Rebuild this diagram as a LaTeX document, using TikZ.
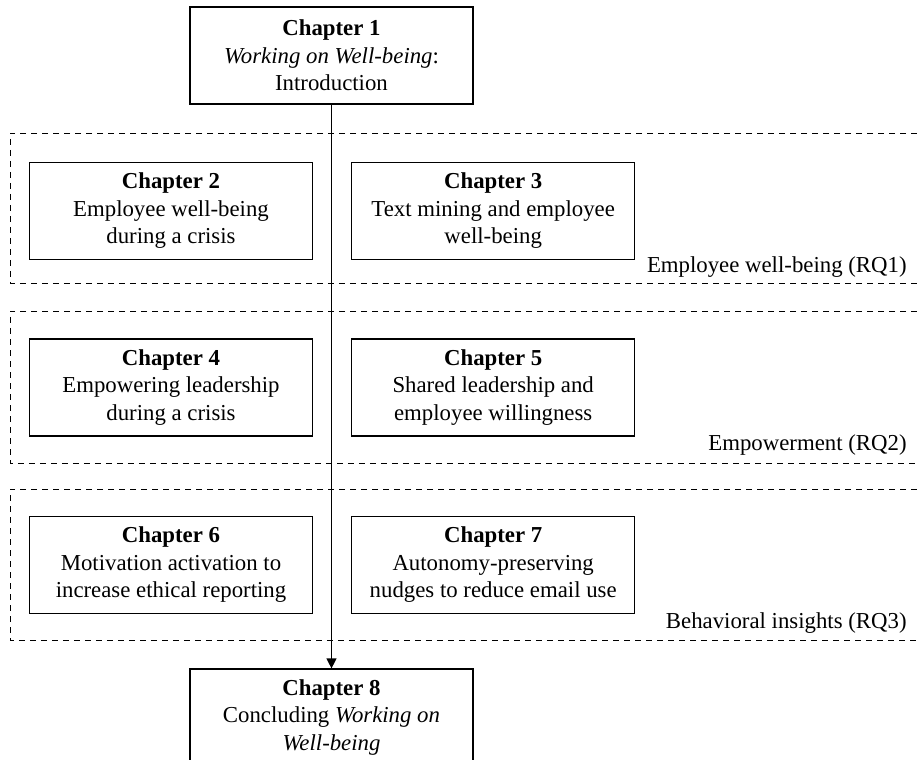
\documentclass[tikz,border=0pt]{standalone}
\usepackage{fontspec}
\setmainfont{Liberation Serif}
\usetikzlibrary{positioning,arrows.meta}

\begin{document}
\begin{tikzpicture}[x=0.5pt,y=-0.5pt,>={Triangle[length=5pt,width=5pt]},
   every node/.style={font=\fontsize{11.4}{13.75}\selectfont},
   chap/.style={draw,line width=0.6pt,minimum width=141.5pt,minimum height=48.5pt,
     inner sep=0pt,align=center},
   rqframe/.style={draw,line width=0.5pt,dash pattern=on 3.2pt off 2.3pt},
   rqlabel/.style={anchor=base east,inner sep=0pt}]
\useasboundingbox (0,0) rectangle (917,760);
% groups
\draw[rqframe] (917,133) -| (10,283) -- (917,283);
\draw[rqframe] (917,311) -| (10,463) -- (917,463);
\draw[rqframe] (917,489) -| (10,640) -- (917,640);
\node[rqlabel] (rq1) at (907,272) {Employee well-being (RQ1)};
\node[rqlabel] (rq2) at (907,450) {Empowerment (RQ2)};
\node[rqlabel] (rq3) at (907,628) {Behavioral insights (RQ3)};
% chapters
\node[chap] (c1) at (331.5,55.5) {\textbf{Chapter 1}\\\textit{Working on Well-being}:\\Introduction};
\node[chap] (c2) at (171,211) {\textbf{Chapter 2}\\Employee well-being\\during a crisis};
\node[chap,right=19pt of c2] (c3) {\textbf{Chapter 3}\\Text mining and employee\\well-being};
\node[chap] (c4) at (171,387.5) {\textbf{Chapter 4}\\Empowering leadership\\during a crisis};
\node[chap,right=19pt of c4] (c5) {\textbf{Chapter 5}\\Shared leadership and\\employee willingness};
\node[chap] (c6) at (171,565) {\textbf{Chapter 6}\\Motivation activation to\\increase ethical reporting};
\node[chap,right=19pt of c6] (c7) {\textbf{Chapter 7}\\Autonomy-preserving\\nudges to reduce email use};
\node[chap] (c8) at (331.5,717.5) {\textbf{Chapter 8}\\Concluding \textit{Working on}\\\textit{Well-being}};
\draw[->,line width=0.6pt] (c1) -- (c8);
\end{tikzpicture}
\end{document}
